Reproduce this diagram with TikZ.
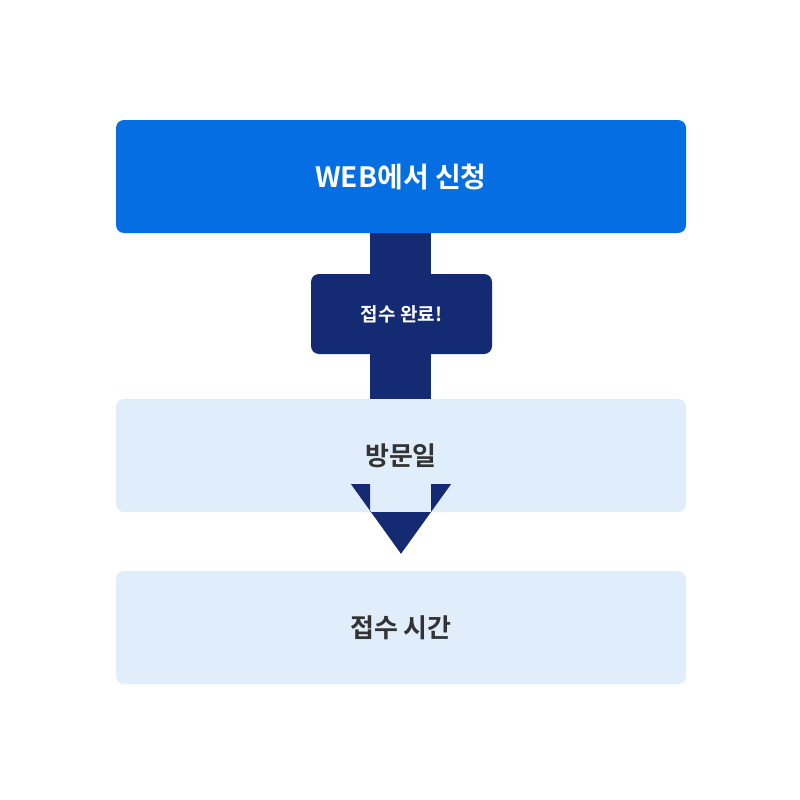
\documentclass[tikz,border=0pt]{standalone}
\usepackage{fontspec}
\newfontfamily\kr{Noto Sans CJK KR}[BoldFont={Noto Sans CJK KR Bold}]
\definecolor{topblue}{HTML}{046EE2}
\definecolor{navy}{HTML}{142B73}
\definecolor{lightb}{HTML}{E0EEFC}
\definecolor{txt}{HTML}{333333}
\begin{document}
\begin{tikzpicture}[x=1pt,y=-1pt,
  box/.style={rounded corners=8pt,minimum width=570pt,minimum height=113pt,inner sep=0pt,font=\kr\bfseries\fontsize{26}{30}\selectfont},
  tag/.style={rounded corners=8pt,fill=navy,text=white,minimum width=181pt,minimum height=80pt,inner sep=0pt,font=\kr\bfseries\fontsize{19}{23}\selectfont}]
\useasboundingbox[fill=white] (0,0) rectangle (800,800);
\node[box,fill=topblue,text=white,font=\kr\bfseries\fontsize{28}{32}\selectfont] (web) at (401,176.5) {WEB에서 신청};
\node[box,fill=lightb,text=txt] (visit) at (401,455.5) {방문일};
\node[box,fill=lightb,text=txt] (time) at (401,627.5) {접수 시간};
\begin{scope}[on background layer/.try]
\end{scope}
\fill[navy] ([xshift=-31pt]web.south) rectangle ([xshift=30pt]visit.north);
\node[tag] (done) at (401.5,314) {접수 완료!};
\fill[navy] ([xshift=-31pt]visit.south) -- ([xshift=-31pt,yshift=28pt]visit.south) -- ([xshift=-50pt,yshift=28pt]visit.south)
  -- ([yshift=17pt]time.north) -- ([xshift=50pt,yshift=28pt]visit.south) -- ([xshift=30pt,yshift=28pt]visit.south) -- ([xshift=30pt]visit.south) -- cycle;
\end{tikzpicture}
\end{document}
